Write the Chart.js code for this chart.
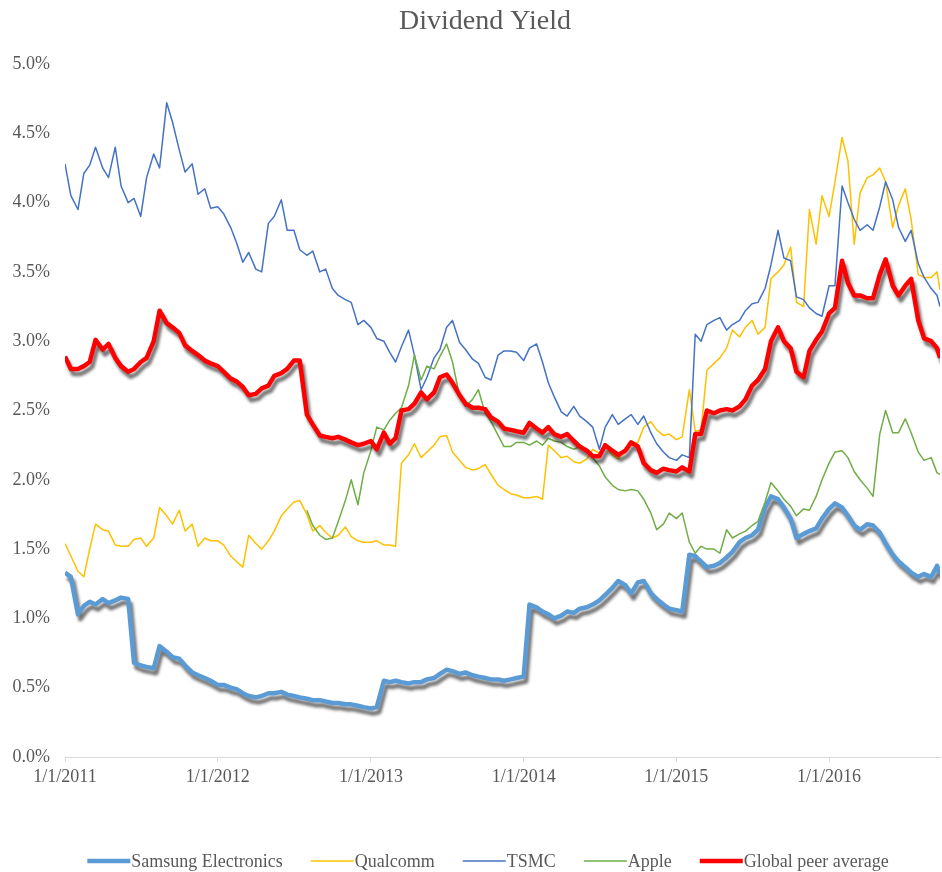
<!DOCTYPE html>
<html><head><meta charset="utf-8">
<script src="https://cdn.jsdelivr.net/npm/chart.js@4.4.0/dist/chart.umd.min.js"></script>
<style>html,body{margin:0;padding:0;background:#fff}</style>
</head><body>
<canvas id="c" width="942" height="872"></canvas>
<script>
const dates = [
'2011-01-01','2011-01-15','2011-02-01','2011-02-15','2011-03-01','2011-03-15','2011-04-01','2011-04-15','2011-05-01','2011-05-15','2011-06-01','2011-06-15','2011-07-01','2011-07-15','2011-08-01','2011-08-15','2011-09-01','2011-09-15','2011-10-01','2011-10-15','2011-11-01','2011-11-15','2011-12-01','2011-12-15',
'2012-01-01','2012-01-15','2012-02-01','2012-02-15','2012-03-01','2012-03-15','2012-04-01','2012-04-15','2012-05-01','2012-05-15','2012-06-01','2012-06-15','2012-07-01','2012-07-15','2012-08-01','2012-08-15','2012-09-01','2012-09-15','2012-10-01','2012-10-15','2012-11-01','2012-11-15','2012-12-01','2012-12-15',
'2013-01-01','2013-01-15','2013-02-01','2013-02-15','2013-03-01','2013-03-15','2013-04-01','2013-04-15','2013-05-01','2013-05-15','2013-06-01','2013-06-15','2013-07-01','2013-07-15','2013-08-01','2013-08-15','2013-09-01','2013-09-15','2013-10-01','2013-10-15','2013-11-01','2013-11-15','2013-12-01','2013-12-15',
'2014-01-01','2014-01-15','2014-02-01','2014-02-15','2014-03-01','2014-03-15','2014-04-01','2014-04-15','2014-05-01','2014-05-15','2014-06-01','2014-06-15','2014-07-01','2014-07-15','2014-08-01','2014-08-15','2014-09-01','2014-09-15','2014-10-01','2014-10-15','2014-11-01','2014-11-15','2014-12-01','2014-12-15',
'2015-01-01','2015-01-15','2015-02-01','2015-02-15','2015-03-01','2015-03-15','2015-04-01','2015-04-15','2015-05-01','2015-05-15','2015-06-01','2015-06-15','2015-07-01','2015-07-15','2015-08-01','2015-08-15','2015-09-01','2015-09-15','2015-10-01','2015-10-15','2015-11-01','2015-11-15','2015-12-01','2015-12-15',
'2016-01-01','2016-01-15','2016-02-01','2016-02-15','2016-03-01','2016-03-15','2016-04-01','2016-04-15','2016-05-01','2016-05-15','2016-06-01','2016-06-15','2016-07-01','2016-07-15','2016-08-01','2016-08-15','2016-09-01','2016-09-15','2016-09-22'
];

const samsung = [
1.33,1.30,1.03,1.09,1.12,1.10,1.14,1.11,1.13,1.15,1.14,0.68,0.66,0.65,0.64,0.80,0.76,0.72,0.71,0.66,0.61,0.59,0.57,0.55,
0.52,0.52,0.50,0.49,0.46,0.44,0.43,0.44,0.46,0.46,0.47,0.45,0.44,0.43,0.42,0.41,0.41,0.40,0.39,0.39,0.38,0.38,0.37,0.36,
0.35,0.36,0.55,0.54,0.55,0.54,0.53,0.54,0.54,0.56,0.57,0.60,0.63,0.62,0.60,0.61,0.59,0.58,0.57,0.56,0.56,0.55,0.56,0.57,
0.58,1.10,1.08,1.05,1.03,1.00,1.02,1.05,1.04,1.07,1.08,1.10,1.13,1.17,1.22,1.27,1.24,1.18,1.26,1.27,1.18,1.14,1.10,1.07,
1.06,1.05,1.46,1.45,1.41,1.37,1.38,1.40,1.44,1.48,1.55,1.58,1.60,1.64,1.80,1.88,1.86,1.80,1.72,1.58,1.61,1.63,1.65,1.72,
1.79,1.83,1.80,1.74,1.67,1.64,1.68,1.67,1.62,1.54,1.46,1.41,1.37,1.33,1.30,1.32,1.30,1.38,1.32
];

const qualcomm = [
1.54,1.45,1.34,1.30,1.50,1.68,1.64,1.63,1.53,1.52,1.52,1.57,1.58,1.52,1.58,1.80,1.74,1.68,1.78,1.63,1.68,1.52,1.58,1.56,
1.56,1.53,1.45,1.41,1.37,1.60,1.54,1.50,1.56,1.63,1.74,1.79,1.84,1.85,1.75,1.63,1.67,1.62,1.58,1.60,1.66,1.59,1.56,1.55,
1.55,1.56,1.53,1.53,1.52,2.12,2.18,2.26,2.16,2.20,2.25,2.31,2.32,2.20,2.14,2.09,2.07,2.08,2.11,2.04,1.96,1.93,1.90,1.89,
1.87,1.87,1.88,1.86,2.25,2.21,2.16,2.17,2.13,2.12,2.15,2.22,2.19,2.24,2.18,2.15,2.21,2.25,2.27,2.38,2.42,2.36,2.32,2.33,
2.29,2.31,2.65,2.35,2.36,2.79,2.84,2.88,2.95,3.08,3.03,3.10,3.15,3.05,3.10,3.45,3.50,3.55,3.68,3.28,3.25,3.95,3.70,4.05,
3.90,4.15,4.47,4.30,3.70,4.07,4.18,4.20,4.25,4.15,3.82,3.98,4.10,3.88,3.48,3.46,3.46,3.50,3.37
];

const tsmc = [
4.28,4.05,3.95,4.21,4.27,4.40,4.25,4.18,4.40,4.12,4.00,4.03,3.90,4.18,4.35,4.25,4.72,4.58,4.38,4.22,4.28,4.06,4.10,3.96,
3.97,3.92,3.82,3.71,3.57,3.64,3.52,3.50,3.85,3.90,4.02,3.80,3.80,3.66,3.62,3.65,3.50,3.52,3.38,3.33,3.30,3.28,3.12,3.15,
3.10,3.02,3.00,2.92,2.85,2.96,3.08,2.90,2.65,2.74,2.88,2.94,3.10,3.15,2.99,2.94,2.87,2.84,2.74,2.72,2.90,2.93,2.93,2.92,
2.86,2.95,2.98,2.85,2.70,2.60,2.49,2.46,2.53,2.46,2.42,2.38,2.22,2.38,2.47,2.40,2.44,2.47,2.40,2.46,2.34,2.26,2.20,2.16,
2.14,2.18,2.16,3.05,3.00,3.12,3.15,3.17,3.08,3.12,3.15,3.22,3.27,3.28,3.38,3.55,3.80,3.60,3.58,3.32,3.30,3.24,3.20,3.18,
3.40,3.40,4.12,4.00,3.88,3.80,3.84,3.80,3.97,4.15,4.02,3.82,3.72,3.80,3.56,3.46,3.38,3.33,3.25
];

const apple = [
null,null,null,null,null,null,null,null,null,null,null,null,null,null,null,null,null,null,null,null,null,null,null,null,
null,null,null,null,null,null,null,null,null,null,null,null,null,null,1.78,1.67,1.60,1.57,1.58,1.70,1.85,2.00,1.82,2.05,
2.21,2.38,2.36,2.43,2.48,2.52,2.68,2.90,2.72,2.82,2.80,2.89,2.98,2.85,2.60,2.53,2.58,2.65,2.48,2.42,2.32,2.24,2.24,2.27,
2.27,2.25,2.28,2.25,2.30,2.28,2.27,2.24,2.22,2.24,2.20,2.16,2.10,2.02,1.96,1.93,1.92,1.93,1.92,1.86,1.76,1.64,1.68,1.76,
1.72,1.76,1.55,1.47,1.52,1.50,1.50,1.47,1.64,1.58,1.61,1.63,1.67,1.70,1.84,1.98,1.92,1.86,1.81,1.74,1.79,1.78,1.88,2.00,
2.12,2.20,2.21,2.16,2.06,2.00,1.94,1.88,2.33,2.50,2.34,2.34,2.44,2.34,2.20,2.14,2.16,2.05,2.04
];

const globalPeer = [
2.89,2.80,2.80,2.82,2.85,3.01,2.94,2.98,2.88,2.82,2.78,2.80,2.85,2.88,3.00,3.22,3.13,3.10,3.06,2.97,2.93,2.90,2.86,2.84,
2.82,2.78,2.73,2.71,2.67,2.61,2.62,2.66,2.68,2.75,2.77,2.80,2.86,2.86,2.47,2.40,2.32,2.31,2.30,2.31,2.29,2.27,2.25,2.26,
2.28,2.22,2.34,2.26,2.30,2.50,2.51,2.55,2.63,2.58,2.63,2.74,2.76,2.70,2.61,2.55,2.52,2.52,2.51,2.45,2.42,2.37,2.36,2.35,
2.34,2.41,2.37,2.34,2.38,2.33,2.31,2.33,2.28,2.24,2.21,2.17,2.17,2.25,2.21,2.18,2.21,2.27,2.24,2.12,2.07,2.05,2.08,2.07,
2.06,2.09,2.06,2.33,2.33,2.50,2.48,2.50,2.51,2.50,2.53,2.58,2.68,2.72,2.80,3.00,3.10,3.00,2.95,2.78,2.74,2.93,3.01,3.07,
3.20,3.24,3.58,3.42,3.33,3.33,3.31,3.31,3.48,3.59,3.40,3.33,3.40,3.45,3.15,3.02,3.00,2.95,2.88
];

const chartTitle = 'Dividend Yield';
const seriesNames = ['Samsung Electronics', 'Qualcomm', 'TSMC', 'Apple', 'Global peer average'];
const yearTicks = ['2011-01-01','2012-01-01','2013-01-01','2014-01-01','2015-01-01','2016-01-01'];
const yearTickLabels = ['1/1/2011','1/1/2012','1/1/2013','1/1/2014','1/1/2015','1/1/2016'];
const yTickLabels = ['0.0%','0.5%','1.0%','1.5%','2.0%','2.5%','3.0%','3.5%','4.0%','4.5%','5.0%'];

function pts(vals) { return dates.map((d, i) => ({ x: Date.parse(d), y: vals[i] })); }

const TEXT = '#595959';
const SERIF = '"Liberation Serif", "Times New Roman", serif';

const shadowPlugin = {
  id: 'shadow',
  beforeDatasetDraw(chart, args) {
    const ds = chart.data.datasets[args.index];
    if (ds.shadow) {
      const ctx = chart.ctx;
      ctx.save();
      ctx.shadowColor = 'rgba(0,0,0,0.55)';
      ctx.shadowBlur = 3;
      ctx.shadowOffsetX = 2.5;
      ctx.shadowOffsetY = 5;
    }
  },
  afterDatasetDraw(chart, args) {
    if (chart.data.datasets[args.index].shadow) chart.ctx.restore();
  }
};

const titleLegendPlugin = {
  id: 'titleLegend',
  afterDraw(chart) {
    const ctx = chart.ctx;
    ctx.save();
    ctx.font = '28px ' + SERIF;
    ctx.fillStyle = TEXT;
    ctx.textAlign = 'center';
    ctx.textBaseline = 'middle';
    ctx.fillText(chartTitle, 485, 22);
    ctx.font = '18px ' + SERIF;
    ctx.textAlign = 'left';
    const lineLen = 43, gap = 1, spacing = 28;
    const items = chart.data.datasets.map(ds => ({ ds, w: ctx.measureText(ds.label).width }));
    const total = items.reduce((s, it) => s + lineLen + gap + it.w, 0) + spacing * (items.length - 1);
    let x = 488 - total / 2;
    const y = 861;
    items.forEach(it => {
      ctx.strokeStyle = it.ds.borderColor;
      ctx.lineWidth = it.ds.borderWidth;
      ctx.lineCap = 'butt';
      ctx.beginPath();
      ctx.moveTo(x, y);
      ctx.lineTo(x + lineLen, y);
      ctx.stroke();
      ctx.fillStyle = TEXT;
      ctx.fillText(it.ds.label, x + lineLen + gap, y + 1);
      x += lineLen + gap + it.w + spacing;
    });
    ctx.restore();
  }
};

const common = { pointRadius: 0, pointHoverRadius: 0, tension: 0, fill: false, borderJoinStyle: 'round', spanGaps: false };

new Chart(document.getElementById('c'), {
  type: 'line',
  data: {
    datasets: [
      Object.assign({ label: seriesNames[0], data: pts(samsung), borderColor: '#5B9BD5', borderWidth: 4.5, shadow: true, order: 5 }, common),
      Object.assign({ label: seriesNames[1], data: pts(qualcomm), borderColor: '#FFC000', borderWidth: 1.5, order: 4 }, common),
      Object.assign({ label: seriesNames[2], data: pts(tsmc), borderColor: '#4472C4', borderWidth: 1.5, order: 3 }, common),
      Object.assign({ label: seriesNames[3], data: pts(apple), borderColor: '#70AD47', borderWidth: 1.5, order: 2 }, common),
      Object.assign({ label: seriesNames[4], data: pts(globalPeer), borderColor: '#FF0000', borderWidth: 4.5, shadow: true, order: 1 }, common)
    ]
  },
  options: {
    responsive: false,
    devicePixelRatio: 1,
    animation: false,
    events: [],
    layout: { padding: { left: 0, right: 2, top: 64, bottom: 75 } },
    plugins: {
      legend: { display: false },
      tooltip: { enabled: false },
      title: { display: false }
    },
    scales: {
      x: {
        type: 'linear',
        min: Date.parse(dates[0]),
        max: Date.parse(dates[dates.length - 1]),
        afterBuildTicks(scale) { scale.ticks = yearTicks.map(d => ({ value: Date.parse(d) })); },
        afterFit(scale) { scale.height = 40; },
        ticks: {
          autoSkip: false, maxRotation: 0, minRotation: 0, padding: 4,
          color: TEXT, font: { family: SERIF, size: 18 },
          callback: (v, i) => yearTickLabels[i]
        },
        grid: { display: true, drawOnChartArea: false, drawTicks: true, tickLength: 5, color: '#d9d9d9' },
        border: { display: true, color: '#d9d9d9', width: 1 }
      },
      y: {
        min: 0, max: 5,
        afterFit(scale) { scale.width = 65; },
        ticks: {
          stepSize: 0.5, padding: 15, color: TEXT, font: { family: SERIF, size: 18 },
          callback: (v, i) => yTickLabels[i]
        },
        grid: { display: false, drawTicks: false },
        border: { display: false }
      }
    }
  },
  plugins: [shadowPlugin, titleLegendPlugin]
});
</script>
</body></html>
